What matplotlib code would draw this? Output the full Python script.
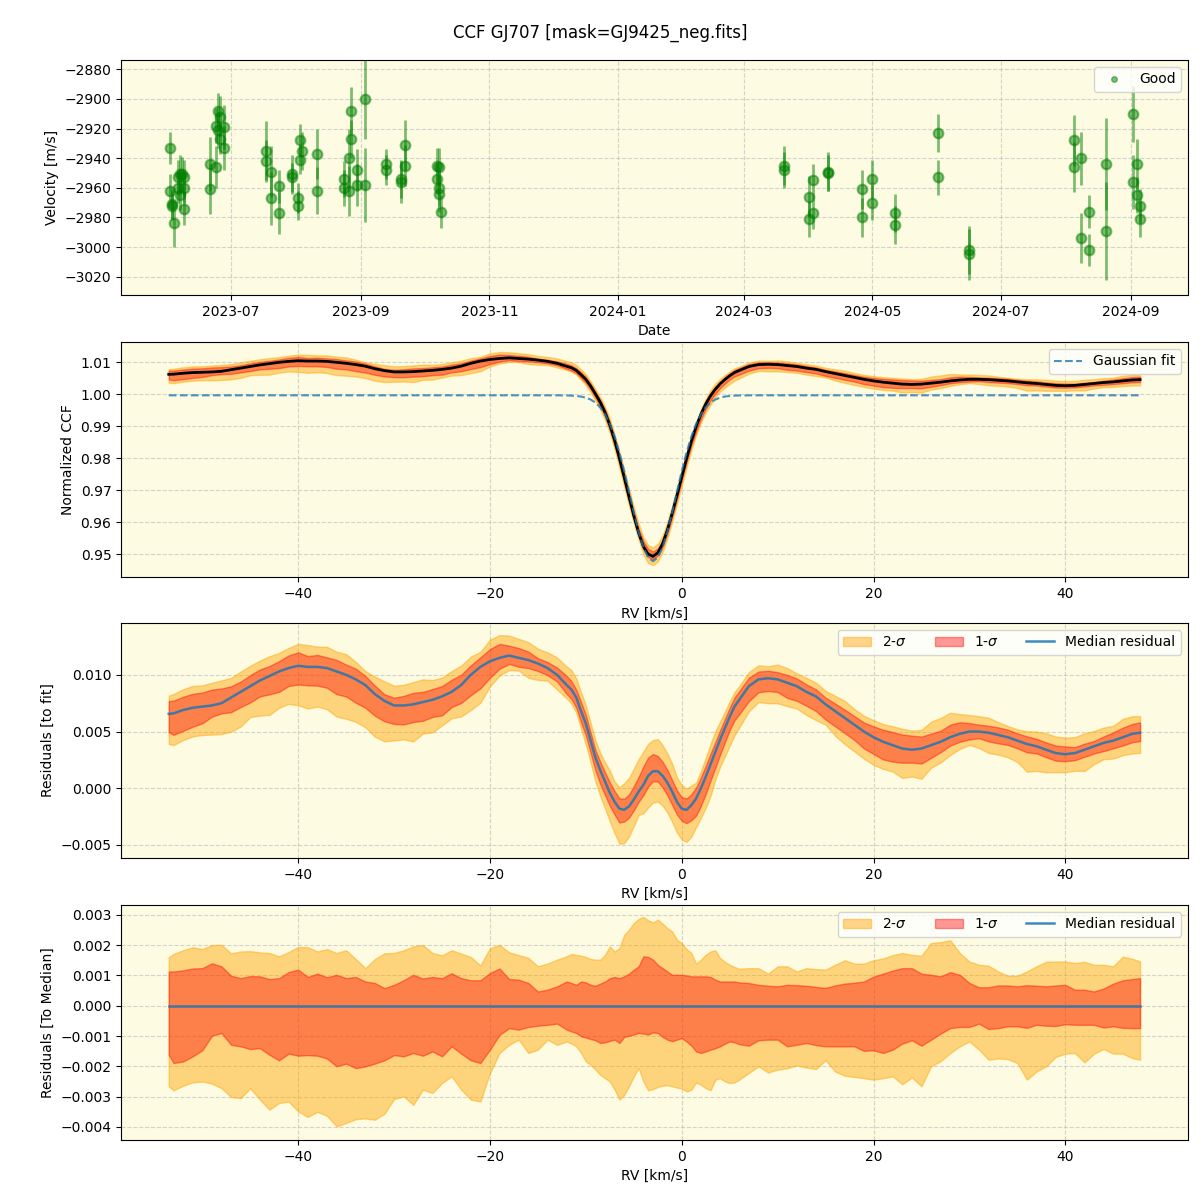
import numpy as np
import matplotlib
matplotlib.use('Agg')
import matplotlib.pyplot as plt
import matplotlib.dates as mdates

# CCF diagnostics for GJ707

# ------- RV time series (top panel) ------------
obs_dates = ['2023-06-02', '2023-06-02', '2023-06-03', '2023-06-03', '2023-06-04',
             '2023-06-06', '2023-06-07', '2023-06-06', '2023-06-07', '2023-06-08',
             '2023-06-09', '2023-06-09', '2023-06-09', '2023-06-21', '2023-06-21',
             '2023-06-24', '2023-06-25', '2023-06-26', '2023-06-24', '2023-06-25',
             '2023-06-26', '2023-06-28', '2023-06-28', '2023-07-18', '2023-07-18',
             '2023-07-20', '2023-07-20', '2023-07-24', '2023-07-24', '2023-07-30',
             '2023-07-30', '2023-08-02', '2023-08-02', '2023-08-03', '2023-08-04',
             '2023-08-03', '2023-08-11', '2023-08-11', '2023-08-24', '2023-08-24',
             '2023-08-26', '2023-08-26', '2023-08-27', '2023-08-27', '2023-08-30',
             '2023-08-30', '2023-09-03', '2023-09-03', '2023-09-13', '2023-09-13',
             '2023-09-20', '2023-09-20', '2023-09-22', '2023-09-22', '2023-10-07',
             '2023-10-08', '2023-10-07', '2023-10-08', '2023-10-08', '2023-10-09',
             '2024-03-20', '2024-03-20', '2024-04-01', '2024-04-01', '2024-04-03',
             '2024-04-03', '2024-04-10', '2024-04-10', '2024-04-26', '2024-04-26',
             '2024-05-01', '2024-05-01', '2024-05-12', '2024-05-12', '2024-06-01',
             '2024-06-01', '2024-06-16', '2024-06-16', '2024-08-05', '2024-08-05',
             '2024-08-08', '2024-08-08', '2024-08-12', '2024-08-12', '2024-08-20',
             '2024-08-20', '2024-09-02', '2024-09-02', '2024-09-04', '2024-09-04',
             '2024-09-05', '2024-09-05']
velocity = [-2933, -2962, -2971, -2972, -2984, -2953, -2951, -2960, -2965, -2951,
            -2953, -2960, -2974, -2944, -2961, -2946, -2908, -2912, -2918, -2921,
            -2927, -2919, -2933, -2935, -2942, -2949, -2967, -2959, -2977, -2951,
            -2953, -2967, -2972, -2928, -2935, -2941, -2937, -2962, -2954, -2960,
            -2940, -2962, -2908, -2927, -2948, -2958, -2900, -2958, -2944, -2948,
            -2954, -2956, -2931, -2945, -2945, -2946, -2954, -2960, -2964, -2976,
            -2945, -2948, -2966, -2981, -2955, -2977, -2949, -2950, -2961, -2980,
            -2954, -2970, -2977, -2985, -2923, -2953, -3002, -3005, -2928, -2946,
            -2940, -2994, -2976, -3002, -2944, -2989, -2910, -2956, -2944, -2965,
            -2972, -2981]
velocity_err = [11, 11, 10, 10, 16, 12, 13, 10, 10, 12,
                12, 10, 11, 18, 17, 14, 12, 14, 12, 12,
                10, 15, 15, 20, 14, 17, 18, 11, 14, 13,
                10, 10, 10, 11, 13, 10, 17, 16, 12, 12,
                20, 17, 16, 13, 14, 14, 27, 25, 10, 10,
                13, 14, 17, 14, 12, 13, 10, 12, 12, 11,
                13, 12, 14, 12, 11, 11, 13, 12, 13, 13,
                13, 12, 13, 13, 13, 12, 16, 17, 17, 17,
                18, 17, 11, 11, 31, 33, 19, 18, 17, 12,
                11, 12]

# ------- CCF profile ------------
rv = np.concatenate([[-53.5], np.arange(-53, -11), np.arange(-11.5, 6.01, 0.5),
                     np.arange(7, 48), [47.8]])

# Gaussian fit parameters
fit_continuum = 0.9996
fit_depth = 0.0518
fit_center = -3.0
fit_sigma = 2.4

# median residual to the fit
median_resid = [0.00656,
    0.0066, 0.0069, 0.0071, 0.0072, 0.0073, 0.0075, 0.0080, 0.0085, 0.0090, 0.0095,
    0.0099, 0.0103, 0.0106, 0.0108, 0.0107, 0.0107, 0.0106, 0.0103, 0.0100, 0.0096,
    0.0091, 0.0083, 0.0077, 0.0073, 0.0073, 0.0074, 0.0076, 0.0078, 0.0081, 0.0085,
    0.0091, 0.0100, 0.0107, 0.0112, 0.0115, 0.0117, 0.0115, 0.0113, 0.0110, 0.0106,
    0.0100, 0.0091,
    0.0087, 0.0080, 0.0068, 0.0057, 0.0042, 0.0027, 0.0016, 0.0006, -0.0004, -0.0012,
    -0.0018, -0.0019, -0.0016, -0.0010, -0.0003, 0.0003, 0.0011, 0.0015, 0.0015, 0.0011,
    0.0005, -0.0003, -0.0012, -0.0018, -0.0019, -0.0015, -0.0009, 0.0000, 0.0010, 0.0021,
    0.0032, 0.0043, 0.0053, 0.0063, 0.0072, 0.0078,
    0.0090, 0.0096, 0.0097, 0.0096, 0.0093, 0.0090, 0.0085, 0.0081, 0.0074, 0.0068,
    0.0062, 0.0056, 0.0050, 0.0045, 0.0041, 0.0038, 0.0035, 0.0034, 0.0035, 0.0038,
    0.0041, 0.0045, 0.0048, 0.0050, 0.0050, 0.0049, 0.0047, 0.0045, 0.0042, 0.0039,
    0.0037, 0.0034, 0.0031, 0.0030, 0.0031, 0.0034, 0.0037, 0.0040, 0.0042, 0.0045,
    0.0048, 0.0049]

# percentile envelopes relative to the median, in units of 1e-3
upper_2sig = [1.60,
    1.71, 1.83, 1.93, 1.87, 2.00, 2.01, 1.73, 1.79, 1.80, 1.76,
    1.74, 1.63, 1.77, 1.94, 1.93, 1.79, 1.87, 1.74, 1.83, 1.54,
    1.24, 1.54, 1.73, 1.74, 1.83, 1.96, 2.00, 1.74, 1.66, 1.83,
    1.72, 1.61, 1.33, 1.90, 2.01, 1.76, 1.67, 1.58, 1.30, 1.39,
    1.52, 1.63,
    1.71, 1.68, 1.65, 1.61, 1.54, 1.52, 1.52, 1.68, 1.96, 1.79,
    1.90, 2.34, 2.51, 2.73, 2.86, 2.93, 2.82, 2.75, 2.84, 2.71,
    2.56, 2.45, 2.18, 2.07, 1.87, 1.74, 1.39, 1.52, 1.68, 1.79,
    1.83, 1.57, 1.45, 1.35, 1.28, 1.22,
    1.24, 1.24, 1.06, 1.30, 1.30, 1.13, 1.24, 1.21, 1.19, 1.35,
    1.50, 1.39, 1.39, 1.50, 1.56, 1.67, 1.74, 1.68, 1.65, 2.07,
    2.10, 2.16, 1.74, 1.46, 1.35, 1.32, 1.13, 0.99, 0.99, 1.13,
    1.30, 1.45, 1.46, 1.46, 1.41, 1.45, 1.35, 1.35, 1.30, 1.62,
    1.55, 1.46]
upper_1sig = [1.13,
    1.13, 1.17, 1.23, 1.24, 1.40, 1.30, 0.99, 0.91, 0.98, 0.97,
    0.88, 0.91, 1.11, 1.19, 0.95, 1.06, 0.94, 1.02, 0.91, 0.95,
    0.80, 0.75, 0.58, 0.69, 0.84, 1.02, 0.90, 0.95, 0.91, 1.07,
    0.91, 0.84, 0.84, 1.08, 1.23, 0.88, 0.86, 0.75, 0.47, 0.53,
    0.64, 0.80,
    0.75, 0.69, 0.80, 0.77, 0.69, 0.66, 0.73, 0.80, 0.91, 0.95,
    0.91, 0.97, 1.06, 1.19, 1.30, 1.63, 1.61, 1.52, 1.35, 1.24,
    1.13, 1.02, 1.02, 1.02, 1.00, 0.97, 0.97, 0.97, 0.97, 0.95,
    0.86, 0.80, 0.80, 0.80, 0.80, 0.77,
    0.75, 0.69, 0.66, 0.64, 0.69, 0.68, 0.66, 0.62, 0.59, 0.67,
    0.73, 0.76, 0.80, 0.96, 1.06, 1.16, 1.24, 1.24, 1.06, 1.02,
    0.97, 1.11, 1.02, 0.75, 0.61, 0.61, 0.67, 0.67, 0.64, 0.68,
    0.66, 0.64, 0.67, 0.69, 0.53, 0.53, 0.47, 0.57, 0.73, 0.84,
    0.88, 0.91]
lower_1sig = [-1.62,
    -1.89, -1.84, -1.67, -1.47, -0.99, -0.90, -1.29, -1.34, -1.43, -1.40,
    -1.62, -1.80, -1.58, -1.65, -1.63, -1.65, -1.74, -2.00, -1.91, -2.06,
    -2.00, -1.91, -1.80, -1.63, -1.67, -1.56, -1.65, -1.51, -1.67, -1.34,
    -1.58, -1.80, -1.89, -1.45, -0.96, -0.74, -0.79, -0.70, -0.66, -0.63,
    -0.59, -0.79,
    -0.85, -0.90, -1.01, -1.05, -1.10, -1.14, -1.23, -1.21, -1.16, -1.12,
    -1.23, -1.03, -0.99, -0.95, -0.90, -0.92, -0.95, -0.88, -0.90, -1.03,
    -1.12, -1.17, -1.12, -1.07, -1.18, -1.32, -1.51, -1.56, -1.51, -1.45,
    -1.40, -1.34, -1.25, -1.18, -1.21, -1.27,
    -1.32, -1.14, -1.12, -1.12, -1.34, -1.29, -1.23, -1.30, -1.34, -1.34,
    -1.34, -1.34, -1.49, -1.47, -1.56, -1.45, -1.25, -1.14, -1.32, -1.12,
    -0.92, -0.74, -0.70, -0.70, -0.59, -0.77, -0.74, -0.68, -0.68, -0.73,
    -0.63, -0.66, -0.67, -0.61, -0.63, -0.63, -0.63, -0.72, -0.68, -0.73,
    -0.74, -0.74]
lower_2sig = [-2.66,
    -2.79, -2.64, -2.53, -2.50, -2.57, -2.72, -3.01, -3.05, -2.72, -3.10,
    -3.43, -3.21, -3.16, -3.49, -3.67, -3.50, -3.63, -3.98, -3.87, -3.74,
    -3.72, -3.76, -3.56, -3.08, -2.99, -3.27, -2.77, -2.88, -2.55, -2.33,
    -2.77, -3.10, -3.16, -2.22, -1.56, -1.29, -1.12, -1.56, -1.45, -1.12,
    -1.29, -1.18,
    -1.25, -1.34, -1.56, -1.84, -1.95, -2.11, -2.28, -2.39, -2.50, -2.77,
    -3.10, -2.94, -2.66, -2.33, -2.06, -2.50, -2.79, -2.75, -2.68, -2.64,
    -2.62, -2.66, -2.70, -2.73, -2.83, -2.77, -2.53, -2.61, -2.72, -2.79,
    -2.44, -2.39, -2.50, -2.55, -2.53, -2.44,
    -2.22, -2.00, -2.20, -2.11, -2.06, -1.97, -2.04, -2.09, -1.80, -2.17,
    -2.31, -2.35, -2.39, -2.44, -2.39, -2.33, -2.59, -2.37, -2.66, -2.00,
    -1.83, -1.56, -1.34, -1.18, -1.45, -1.78, -1.74, -1.76, -1.89, -2.44,
    -2.17, -2.00, -1.69, -1.58, -1.56, -1.87, -1.58, -1.43, -1.58, -1.58,
    -1.73, -1.78]

# derived curves
gauss_fit = fit_continuum - fit_depth * np.exp(-(rv - fit_center) ** 2 / (2 * fit_sigma ** 2))
resid = np.array(median_resid)
ccf_median = gauss_fit + resid
u2 = np.array(upper_2sig) * 1e-3
u1 = np.array(upper_1sig) * 1e-3
l1 = np.array(lower_1sig) * 1e-3
l2 = np.array(lower_2sig) * 1e-3

bg = '#fdfbe1'
c2 = 'orange'
c1 = 'red'

fig = plt.figure(figsize=(12, 12), dpi=100)
fig.suptitle('CCF GJ707 [mask=GJ9425_neg.fits]', y=0.98, fontsize=12)

ax1 = fig.add_axes([0.101, 0.754, 0.889, 0.196])
ax2 = fig.add_axes([0.101, 0.519, 0.889, 0.196])
ax3 = fig.add_axes([0.101, 0.285, 0.889, 0.196])
ax4 = fig.add_axes([0.101, 0.050, 0.889, 0.196])

for ax in (ax1, ax2, ax3, ax4):
    ax.set_facecolor(bg)
    ax.grid(True, linestyle='--', color='#b8b8c0', alpha=0.6)
    ax.set_axisbelow(True)

# top panel
dates = np.array(obs_dates, dtype='datetime64[D]')
ax1.errorbar(dates, velocity, yerr=velocity_err, fmt='o', color='green',
             alpha=0.5, ms=7, mew=1.5, elinewidth=2)
ax1.plot([], [], 'o', color='green', alpha=0.5, ms=4, label='Good')
ax1.set_ylim(-3032.5, -2873.7)
ax1.xaxis.set_major_locator(mdates.MonthLocator(bymonth=[1, 3, 5, 7, 9, 11]))
ax1.xaxis.set_major_formatter(mdates.DateFormatter('%Y-%m'))
ax1.set_xlabel('Date')
ax1.set_ylabel('Velocity [m/s]')
ax1.legend(loc='upper right')

# CCF panel
ax2.fill_between(rv, ccf_median + l2, ccf_median + u2, color=c2, alpha=0.45)
ax2.fill_between(rv, ccf_median + l1, ccf_median + u1, color=c1, alpha=0.4)
ax2.plot(rv, ccf_median, color='black', lw=2)
ax2.plot(rv, gauss_fit, '--', color='C0', alpha=0.8, lw=1.5, label='Gaussian fit')
ax2.set_ylim(0.9428, 1.01625)
ax2.set_xlabel('RV [km/s]')
ax2.set_ylabel('Normalized CCF')
ax2.legend(loc='upper right')

# residuals to fit
ax3.fill_between(rv, resid + l2, resid + u2, color=c2, alpha=0.45, label=r'2-$\sigma$')
ax3.fill_between(rv, resid + l1, resid + u1, color=c1, alpha=0.4, label=r'1-$\sigma$')
ax3.plot(rv, resid, color='C0', lw=1.8, alpha=0.85, label='Median residual')
ax3.set_ylim(-0.00615, 0.01459)
ax3.set_xlabel('RV [km/s]')
ax3.set_ylabel('Residuals [to fit]')
ax3.legend(loc='upper right', ncol=3)

# residuals to median
ax4.fill_between(rv, l2, u2, color=c2, alpha=0.45, label=r'2-$\sigma$')
ax4.fill_between(rv, l1, u1, color=c1, alpha=0.4, label=r'1-$\sigma$')
ax4.plot(rv, np.zeros_like(rv), color='C0', lw=1.8, alpha=0.85, label='Median residual')
ax4.set_ylim(-0.00443, 0.00333)
ax4.set_xlabel('RV [km/s]')
ax4.set_ylabel('Residuals [To Median]')
ax4.legend(loc='upper right', ncol=3)

for ax in (ax2, ax3, ax4):
    ax.set_xlim(-58.46, 52.8)

fig.savefig('out.png', dpi=100)
